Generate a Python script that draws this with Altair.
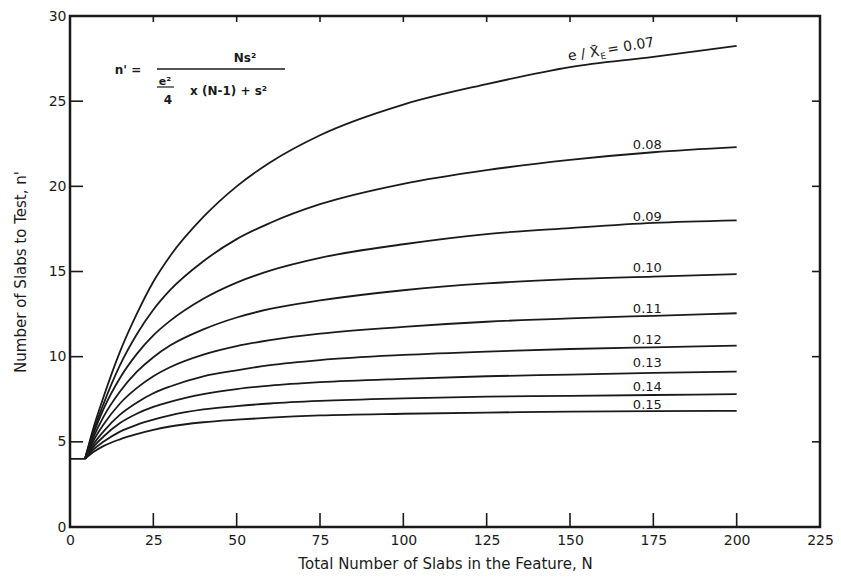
import altair as alt
import pandas as pd

# ---------------- data ----------------
N_points = [4.5, 7, 10, 15, 20, 25, 30, 40, 50, 60, 75, 100, 125, 150, 175, 200]

ratios = ["0.07", "0.08", "0.09", "0.10", "0.11", "0.12", "0.13", "0.14", "0.15"]

n_007 = [4.0, 5.8, 7.6, 10.3, 12.5, 14.4, 15.9, 18.2, 20.0, 21.4, 23.0, 24.8, 26.0, 27.0, 27.6, 28.25]
n_008 = [4.0, 5.6, 7.2, 9.5, 11.3, 12.75, 13.9, 15.6, 16.9, 17.85, 18.95, 20.15, 20.95, 21.55, 22.0, 22.3]
n_009 = [4.0, 5.45, 6.9, 8.75, 10.15, 11.25, 12.1, 13.4, 14.35, 15.05, 15.8, 16.6, 17.2, 17.55, 17.85, 18.0]
n_010 = [4.0, 5.25, 6.45, 7.95, 9.1, 9.97, 10.65, 11.6, 12.3, 12.8, 13.3, 13.9, 14.3, 14.55, 14.7, 14.85]
n_011 = [4.0, 5.05, 6.0, 7.25, 8.15, 8.85, 9.38, 10.12, 10.62, 10.97, 11.35, 11.75, 12.05, 12.25, 12.4, 12.55]
n_012 = [4.0, 4.85, 5.6, 6.6, 7.3, 7.85, 8.25, 8.85, 9.2, 9.5, 9.8, 10.1, 10.3, 10.45, 10.55, 10.65]
n_013 = [4.0, 4.7, 5.3, 6.1, 6.65, 7.05, 7.35, 7.8, 8.1, 8.3, 8.5, 8.7, 8.85, 8.95, 9.05, 9.12]
n_014 = [4.0, 4.55, 5.0, 5.6, 6.0, 6.3, 6.55, 6.9, 7.1, 7.25, 7.4, 7.55, 7.65, 7.7, 7.75, 7.8]
n_015 = [4.0, 4.4, 4.75, 5.15, 5.45, 5.7, 5.9, 6.15, 6.3, 6.42, 6.55, 6.65, 6.72, 6.77, 6.8, 6.82]

flat_N = [0, 4.5]
flat_n = [4.0, 4.0]

x_tick_values = [0, 25, 50, 75, 100, 125, 150, 175, 200, 225]
y_tick_values = [0, 5, 10, 15, 20, 25, 30]
x_inner_ticks = [25, 50, 75, 100, 125, 150, 175, 200]
y_inner_ticks = [5, 10, 15, 20, 25]

label_texts = ["0.08", "0.09", "0.10", "0.11", "0.12", "0.13", "0.14", "0.15"]

# annotation positions (kept apart from the values)
label_N = [173.2] * 8
label_n = [22.4, 18.2, 15.2, 12.8, 11.0, 9.6, 8.2, 7.15]

# ---------------- build tables ----------------
series = [n_007, n_008, n_009, n_010, n_011, n_012, n_013, n_014, n_015]
rows = []
for r, vals in zip(ratios, series):
    for N, v in zip(N_points, vals):
        rows.append({"N": N, "n": v, "ratio": r})
curves_df = pd.DataFrame(rows)
flat_df = pd.DataFrame({"N": flat_N, "n": flat_n})
labels_df = pd.DataFrame({"N": label_N, "n": label_n, "label": label_texts})

FONT = "DejaVu Sans"
INK = "#1a1a1a"
W, H = 750, 511

xscale = alt.Scale(domain=[0, 225], nice=False, zero=False)
yscale = alt.Scale(domain=[0, 30], nice=False, zero=False)

x_axis = alt.Axis(values=x_tick_values, ticks=False, domain=False, grid=False,
                  labelFont=FONT, labelFontSize=14, labelColor=INK, labelPadding=6,
                  labelFlush=False, labelOverlap=False,
                  title="Total Number of Slabs in the Feature, N", titleFont=FONT,
                  titleFontSize=15, titleFontWeight="normal", titleColor=INK,
                  titlePadding=9)
y_axis = alt.Axis(values=y_tick_values, ticks=False, domain=False, grid=False,
                  labelFont=FONT, labelFontSize=14, labelColor=INK, labelPadding=4,
                  labelFlush=False, labelOverlap=False,
                  title="Number of Slabs to Test, n'", titleFont=FONT,
                  titleFontSize=15, titleFontWeight="normal", titleColor=INK,
                  titlePadding=20)

X = alt.X("N:Q", scale=xscale, axis=x_axis)
Y = alt.Y("n:Q", scale=yscale, axis=y_axis)

lines = alt.Chart(curves_df).mark_line(color=INK, strokeWidth=1.8, interpolate="monotone").encode(
    x=X, y=Y, detail="ratio:N",
)

flat = alt.Chart(flat_df).mark_line(color=INK, strokeWidth=1.8).encode(x=X, y=Y)

labels = alt.Chart(labels_df).mark_text(font=FONT, fontSize=13, color=INK,
                                         align="center", baseline="middle").encode(
    x=X, y=Y, text="label:N",
)

# rotated top label  e / X̄_E = 0.07
top_anchor = pd.DataFrame({"N": [149.4], "n": [27.6]})
rot = 350.5
def rot_text(txt, size, dx, dy=0):
    return alt.Chart(top_anchor).mark_text(font=FONT, fontSize=size, color=INK, align="left",
                                           baseline="middle", angle=rot, dx=dx, dy=dy).encode(
        x=X, y=Y, text=alt.value(txt))

top_parts = [
    rot_text("e / X", 14, 0),
    rot_text("\u00af", 14, 23.5, -1),
    rot_text("E", 9, 32, 5),
    rot_text("= 0.07", 14, 40),
]

# inward tick marks on the four sides of the frame
xt_df = pd.DataFrame({"N": x_inner_ticks})
yt_df = pd.DataFrame({"n": y_inner_ticks})
tick_style = dict(color=INK, strokeWidth=1.6)
bottom_ticks = alt.Chart(xt_df).mark_rule(**tick_style).encode(
    x=X, y=alt.value(H), y2=alt.value(H - 14))
top_ticks = alt.Chart(xt_df).mark_rule(**tick_style).encode(
    x=X, y=alt.value(0), y2=alt.value(6))
left_ticks = alt.Chart(yt_df).mark_rule(**tick_style).encode(
    y=Y, x=alt.value(0), x2=alt.value(13))
right_ticks = alt.Chart(yt_df).mark_rule(**tick_style).encode(
    y=Y, x=alt.value(W - 8), x2=alt.value(W))

# formula in the top-left corner (pixel positions inside the plot area)
def ftext(txt, x, y, size=12, align="center"):
    return alt.Chart(pd.DataFrame({"a": [0]})).mark_text(
        font=FONT, fontSize=size, fontWeight="bold", color=INK, align=align, baseline="middle"
    ).encode(x=alt.value(x), y=alt.value(y), text=alt.value(txt))

def frule(x1, x2, y, w=1.5):
    return alt.Chart(pd.DataFrame({"a": [0]})).mark_rule(color=INK, strokeWidth=w).encode(
        x=alt.value(x1), x2=alt.value(x2), y=alt.value(y))

formula = [
    ftext("n' =", 58, 54),
    ftext("Ns\u00b2", 175, 42),
    frule(87, 215, 53),
    ftext("e\u00b2", 95, 66, size=11),
    frule(87, 104, 71, w=1.2),
    ftext("4", 98, 84, size=12),
    ftext("x (N-1) + s\u00b2", 120, 75, size=12, align="left"),
]

chart = alt.layer(
    lines, flat, labels, *top_parts,
    bottom_ticks, top_ticks, left_ticks, right_ticks, *formula
).properties(
    width=W, height=H,
    autosize=alt.AutoSizeParams(type="none"),
    padding={"left": 62, "top": 8, "right": 13, "bottom": 50},
    background="white",
).configure_view(stroke=INK, strokeWidth=2.5)

chart.save("out.html", embed_options={"renderer": "svg", "actions": False})
